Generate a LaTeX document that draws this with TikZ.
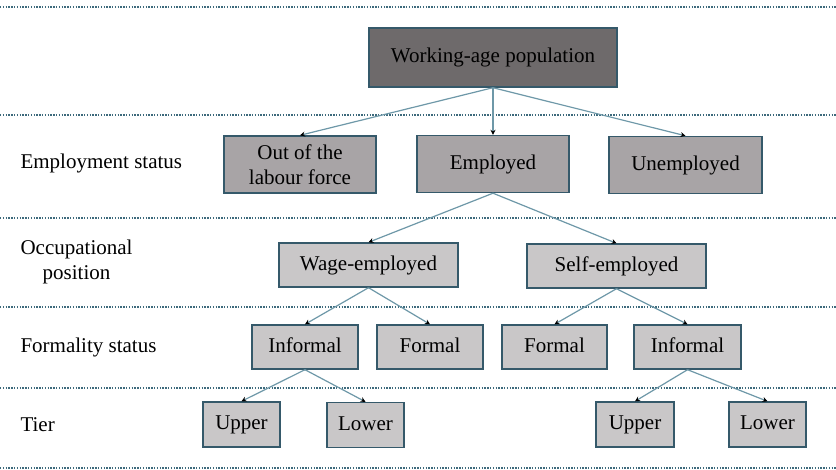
\documentclass[tikz,border=0pt]{standalone}
\usepackage{fontspec}
\setmainfont{Liberation Serif}
\usetikzlibrary{arrows.meta}
\definecolor{boxline}{HTML}{35596A}
\definecolor{linkline}{HTML}{6E98A8}
\definecolor{rowline}{HTML}{3D6A7C}
\definecolor{darkfill}{HTML}{6E6A6B}
\definecolor{midfill}{HTML}{A8A4A6}
\definecolor{lightfill}{HTML}{C9C7C8}

\begin{document}
\begin{tikzpicture}[x=1pt,y=-1pt,font=\fontsize{21}{25}\selectfont,
    box/.style={draw=boxline,line width=1.4pt,inner sep=0pt,align=center},
    onebox/.style={box,execute at begin node=\strut},
    link/.style={draw=linkline,line width=1.2pt,-{Stealth[black,length=5pt,width=5pt]}},
    rowsep/.style={draw=rowline,line width=1.4pt,dash pattern=on 1.4pt off 1.4pt}]
				\useasboundingbox[fill=white] (0,0) rectangle (836,469);
				% separators between the levels
				\draw[rowsep] (0,7)--(836,7) (0,115)--(836,115) (0,218)--(836,218)
				              (0,307)--(836,307) (0,388)--(836,388) (0,468)--(836,468);
				% level names
				\node[anchor=west] (lemp) at (17,163) {Employment status};
				\node[anchor=west,align=center] (locc) at (17,262) {Occupational\\position};
				\node[anchor=west] (lform) at (17,347) {Formality status};
				\node[anchor=west] (ltier) at (17,425) {Tier};
				% boxes
				\node[onebox,fill=darkfill,minimum width=248pt,minimum height=59pt] (pop) at (493,57.5) {Working-age population};
				\node[box,fill=midfill,minimum width=152pt,minimum height=57pt] (out) at (300,164.5) {Out of the\\labour force};
				\node[onebox,fill=midfill,minimum width=152pt,minimum height=57pt] (emp) at (493,164) {Employed};
				\node[onebox,fill=midfill,minimum width=153pt,minimum height=57pt] (unemp) at (685.5,165) {Unemployed};
				\node[onebox,fill=lightfill,minimum width=179pt,minimum height=44pt] (wage) at (368.5,265) {Wage-employed};
				\node[onebox,fill=lightfill,minimum width=179pt,minimum height=44pt] (self) at (616.5,266) {Self-employed};
				\node[onebox,fill=lightfill,minimum width=106pt,minimum height=44pt] (winf) at (305,347) {Informal};
				\node[onebox,fill=lightfill,minimum width=106pt,minimum height=44pt] (wfor) at (430,347) {Formal};
				\node[onebox,fill=lightfill,minimum width=105pt,minimum height=44pt] (sfor) at (554.5,347) {Formal};
				\node[onebox,fill=lightfill,minimum width=107pt,minimum height=44pt] (sinf) at (687.5,347) {Informal};
				\node[onebox,fill=lightfill,minimum width=77pt,minimum height=45pt] (wup) at (241.5,424.5) {Upper};
				\node[onebox,fill=lightfill,minimum width=77pt,minimum height=45pt] (wlow) at (365.5,425) {Lower};
				\node[onebox,fill=lightfill,minimum width=78pt,minimum height=45pt] (sup) at (635,424.5) {Upper};
				\node[onebox,fill=lightfill,minimum width=77pt,minimum height=45pt] (slow) at (767.5,424.5) {Lower};
				% connectors
				\draw[link] (pop.south)--(out.north);
				\draw[link] (pop.south)--(emp.north);
				\draw[link] (pop.south)--(unemp.north);
				\draw[link] (emp.south)--(wage.north);
				\draw[link] (emp.south)--(self.north);
				\draw[link] (wage.south)--(winf.north);
				\draw[link] (wage.south)--(wfor.north);
				\draw[link] (self.south)--(sfor.north);
				\draw[link] (self.south)--(sinf.north);
				\draw[link] (winf.south)--(wup.north);
				\draw[link] (winf.south)--(wlow.north);
				\draw[link] (sinf.south)--(sup.north);
				\draw[link] (sinf.south)--(slow.north);
\end{tikzpicture}
\end{document}
